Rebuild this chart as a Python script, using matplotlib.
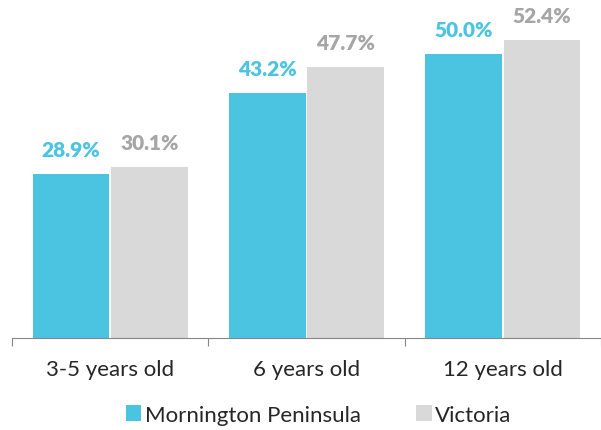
import matplotlib.pyplot as plt
import numpy as np

categories = ['3-5 years old', '6 years old', '12 years old']
mornington = [28.9, 43.2, 50.0]
victoria = [30.1, 47.7, 52.4]
series_names = ['Mornington Peninsula', 'Victoria']

blue = '#4BC4E2'
grey = '#D9D9D9'
grey_text = '#A6A6A6'

plt.rcParams['font.family'] = ['Lato', 'DejaVu Sans']

fig = plt.figure(figsize=(6.01, 4.31), dpi=100)
ax = fig.add_axes([0.02, 0.2135, 0.98, 0.7865])

x = np.arange(len(categories))
w = 0.39
b1 = ax.bar(x - 0.2, mornington, w, color=blue, label=series_names[0])
b2 = ax.bar(x + 0.2, victoria, w, color=grey, label=series_names[1])

# value labels above each bar
for bars, vals, col in [(b1, mornington, blue), (b2, victoria, grey_text)]:
    for r, v in zip(bars, vals):
        ax.annotate(f'{v:.1f}%', (r.get_x() + r.get_width() / 2, v),
                    xytext=(0, 13), textcoords='offset points',
                    ha='center', va='baseline', fontsize=15,
                    fontweight='heavy', color=col)

ax.set_xlim(-0.5, 2.436)
ax.set_ylim(0, 59.7)
ax.set_yticks([])
for s in ['top', 'right', 'left']:
    ax.spines[s].set_visible(False)
ax.spines['bottom'].set_color('#868686')
ax.set_xticks(np.arange(-0.5, 3, 1))
ax.set_xticklabels([])
ax.tick_params(axis='x', length=6, color='#868686')
for i, c in enumerate(categories):
    ax.text(i, -5.5, c, ha='center', va='center', fontsize=16, color='#262626')

fig.legend(handles=[b1, b2], labels=series_names, loc='center',
           bbox_to_anchor=(0.53, 0.035), ncol=2, frameon=False,
           fontsize=16, handlelength=0.7, handleheight=0.7,
           handletextpad=0.15, columnspacing=2.5, labelcolor='#262626')

fig.savefig('out.png', dpi=100)
